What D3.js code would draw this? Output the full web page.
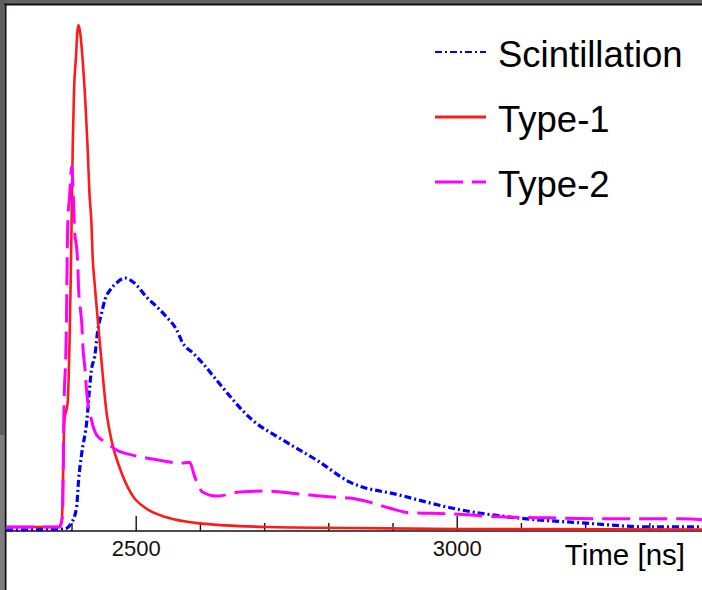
<!DOCTYPE html>
<html>
<head>
<meta charset="utf-8">
<script src="https://cdn.jsdelivr.net/npm/d3@7"></script>
<style>
  body { margin: 0; background: #fff; }
  svg { display: block; font-family: "Liberation Sans", Arial, sans-serif; }
</style>
</head>
<body>
<svg id="chart" width="702" height="590"></svg>
<script>
// pulse shapes, amplitude normalised to the Type-1 peak
const scintTime = [2298, 2389, 2400, 2408, 2411, 2416, 2424, 2428, 2431, 2436, 2441, 2447, 2452, 2460, 2470, 2483,
  2498, 2517, 2533, 2548, 2564, 2573, 2589, 2604, 2626, 2682, 2729, 2782, 2833, 2911, 3005, 3093, 3196, 3301, 3382];
const scintValue = [0.002, 0.004, 0.016, 0.047, 0.10, 0.154, 0.219, 0.279, 0.318, 0.344, 0.397, 0.431, 0.457, 0.476, 0.49, 0.5,
  0.49, 0.462, 0.443, 0.423, 0.397, 0.372, 0.352, 0.332, 0.298, 0.219, 0.18, 0.14, 0.097, 0.071, 0.042, 0.026, 0.016, 0.008, 0.008];

const type1Time = [2298, 2380, 2385, 2389, 2394, 2397, 2399, 2402, 2404, 2407, 2409, 2411, 2414, 2417, 2422, 2425, 2428, 2431,
  2433, 2436, 2439, 2445, 2455, 2463, 2475, 2495, 2517, 2548, 2600, 2704, 2833, 3000, 3382];
const type1Value = [0.008, 0.008, 0.022, 0.219, 0.253, 0.377, 0.51, 0.767, 0.872, 0.937, 0.984, 1.0, 0.98, 0.937, 0.838, 0.76, 0.666, 0.61,
  0.54, 0.49, 0.445, 0.36, 0.23, 0.175, 0.125, 0.07, 0.044, 0.027, 0.015, 0.008, 0.006, 0.004, 0.003];

const type2Time = [2298, 2382, 2386, 2388, 2389, 2391, 2392, 2393, 2394, 2394.5, 2397, 2400, 2402, 2404, 2405, 2408, 2410, 2411,
  2416, 2418, 2421, 2424, 2431, 2439, 2455, 2470, 2495, 2537, 2569, 2584, 2592, 2604, 2626, 2662, 2704, 2755, 2807, 2833,
  2864, 2896, 2927, 2989, 3067, 3145, 3249, 3352, 3382];
const type2Value = [0.008, 0.008, 0.03, 0.22, 0.28, 0.34, 0.40, 0.51, 0.6, 0.62, 0.66, 0.72, 0.69, 0.62, 0.59, 0.56, 0.52, 0.48,
  0.41, 0.36, 0.32, 0.27, 0.22, 0.19, 0.174, 0.16, 0.15, 0.14, 0.134, 0.136, 0.107, 0.077, 0.069, 0.077, 0.079, 0.073, 0.067, 0.065,
  0.057, 0.045, 0.036, 0.034, 0.028, 0.026, 0.024, 0.024, 0.022];

const majorTicks = [2500, 3000];
const minorTicks = [2300, 2400, 2600, 2700, 2800, 2900, 3100, 3200, 3300];

const series = [
  { name: 'Scintillation', time: scintTime, value: scintValue, color: '#0000ff', width: 3.2, dash: '7,3,2,3', keyWidth: 2 },
  { name: 'Type-1', time: type1Time, value: type1Value, color: '#ff1a1a', width: 2.6, dash: null, keyWidth: 3 },
  { name: 'Type-2', time: type2Time, value: type2Value, color: '#ff00ff', width: 3, dash: '28,9', keyWidth: 3 }
];

const svg = d3.select('#chart');
const width = 702, height = 590;

// window frame bits round the cropped canvas
svg.append('rect').attr('x', 0).attr('y', 0).attr('width', width).attr('height', 4).attr('fill', '#646266');
svg.append('rect').attr('x', 0).attr('y', 0).attr('width', 4.5).attr('height', 435).attr('fill', '#5f5d62');
svg.append('rect').attr('x', 0).attr('y', 435).attr('width', 4.5).attr('height', height - 435).attr('fill', '#7d7d7d');
svg.append('line').attr('x1', 5.5).attr('x2', 5.5).attr('y1', 3.5).attr('y2', height)
  .attr('stroke', '#111').attr('stroke-width', 2);
svg.append('line').attr('x1', 4.5).attr('x2', width).attr('y1', 4.5).attr('y2', 4.5)
  .attr('stroke', '#111').attr('stroke-width', 2);

const x = d3.scaleLinear().domain([2298, 3382]).range([6, 702]);
const y = d3.scaleLinear().domain([0, 1]).range([531, 25]);

svg.append('clipPath').attr('id', 'plot-clip')
  .append('rect').attr('x', 6.5).attr('y', 5.5).attr('width', width - 6.5).attr('height', height - 5.5);

// axis: minor ticks, then major ticks with labels
const minorAxis = d3.axisBottom(x).tickValues(minorTicks).tickSize(-8).tickFormat('');
const majorAxis = d3.axisBottom(x).tickValues(majorTicks).tickSize(-15).tickPadding(9).tickFormat(d3.format('d'));

const axisG = svg.append('g').attr('transform', 'translate(0,531)');
axisG.append('g').call(minorAxis);
axisG.append('g').call(majorAxis);
axisG.selectAll('.domain').remove();
axisG.selectAll('.tick').filter(d => x(d) < 8).remove();
axisG.selectAll('line').attr('stroke', '#111').attr('stroke-width', 1.4);
axisG.selectAll('text').attr('font-size', 22).attr('fill', '#111')
  .attr('font-family', '"Liberation Sans", Arial, sans-serif');

svg.append('line').attr('x1', 6).attr('x2', width).attr('y1', 531).attr('y2', 531)
  .attr('stroke', '#111').attr('stroke-width', 1.5);

svg.append('text').attr('x', 685).attr('y', 565).attr('text-anchor', 'end')
  .attr('font-size', 29.5).attr('fill', '#000').text('Time [ns]');

// curves
const line = d3.line()
  .x(d => x(d[0]))
  .y(d => y(d[1]))
  .curve(d3.curveMonotoneX);

const curves = svg.append('g').attr('clip-path', 'url(#plot-clip)');
series.forEach(s => {
  curves.append('path')
    .datum(s.time.map((t, i) => [t, s.value[i]]))
    .attr('d', line)
    .attr('fill', 'none')
    .attr('stroke', s.color)
    .attr('stroke-width', s.width)
    .attr('stroke-dasharray', s.dash)
    .attr('stroke-linejoin', 'round');
});

// legend
const legend = svg.append('g');
series.forEach((s, i) => {
  const base = 67 + i * 65;
  legend.append('line')
    .attr('x1', 435).attr('x2', 486)
    .attr('y1', base - 15).attr('y2', base - 15)
    .attr('stroke', s.color)
    .attr('stroke-width', s.keyWidth)
    .attr('stroke-dasharray', s.dash);
  legend.append('text')
    .attr('x', 498).attr('y', base)
    .attr('font-size', 36.5).attr('fill', '#000')
    .text(s.name);
});
</script>
</body>
</html>
